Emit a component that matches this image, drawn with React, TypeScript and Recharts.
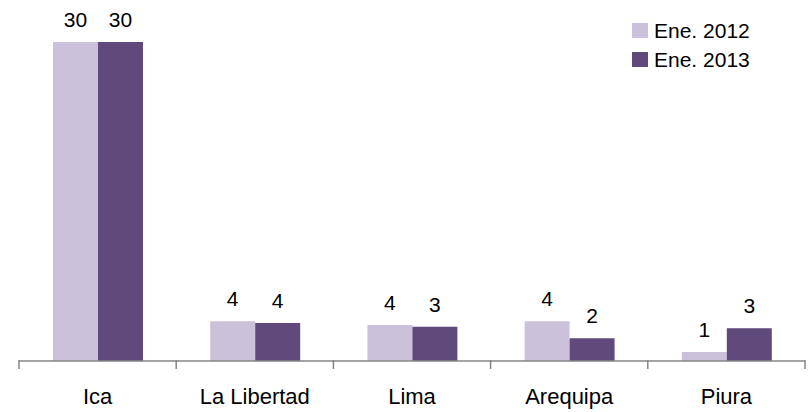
import React from 'react';
import { BarChart, Bar, XAxis, YAxis, LabelList } from 'recharts';

const regions = ['Ica', 'La Libertad', 'Lima', 'Arequipa', 'Piura'];
const ene2012 = [30, 3.73, 3.39, 3.73, 0.85];
const ene2013 = [30, 3.57, 3.23, 2.13, 3.07];
const labels2012 = ['30', '4', '4', '4', '1'];
const labels2013 = ['30', '4', '3', '2', '3'];

const LIGHT = '#CCC1DA';
const DARK = '#604A7B';
const FONT = '"Liberation Sans", Arial, sans-serif';

const data = regions.map((name, i) => ({
  name,
  a: ene2012[i],
  b: ene2013[i],
  la: labels2012[i],
  lb: labels2013[i],
}));

const RegionTick = (props: any) => {
  const { x, y, payload, index, visibleTicksCount } = props;
  const half = payload.offset || 78.6;
  const last = index === visibleTicksCount - 1;
  return (
    <g>
      <line x1={x - half} y1={y - 1} x2={x - half} y2={y + 8} stroke="#868686" strokeWidth={1.5} />
      {last && <line x1={x + half} y1={y - 1} x2={x + half} y2={y + 8} stroke="#868686" strokeWidth={1.5} />}
      <text x={x} y={y + 43} textAnchor="middle" fontSize={22} fontFamily={FONT} fill="#000">
        {payload.value}
      </text>
    </g>
  );
};

const LegendBox = () => (
  <div style={{ position: 'absolute', left: 632, top: 16, fontFamily: FONT, fontSize: 21, color: '#000' }}>
    {[['Ene. 2012', LIGHT], ['Ene. 2013', DARK]].map(([t, c]) => (
      <div key={t} style={{ display: 'flex', alignItems: 'center', height: 29 }}>
        <span style={{ width: 16, height: 15, background: c, marginRight: 6, display: 'inline-block' }} />
        <span>{t}</span>
      </div>
    ))}
  </div>
);

export default function App() {
  return (
    <div style={{ position: 'fixed', left: 0, top: 0, width: 812, height: 412, background: '#fff' }}>
      <BarChart
        width={812}
        height={412}
        data={data}
        margin={{ top: 42, right: 7, bottom: 0, left: 19 }}
        barGap={0}
        barSize={45}
      >
        <YAxis hide domain={[0, 30]} />
        <XAxis
          dataKey="name"
          height={51}
          tickLine={false}
          tickSize={0}
          tickMargin={0}
          axisLine={{ stroke: '#868686', strokeWidth: 1.5 }}
          tick={<RegionTick />}
          interval={0}
        />
        <Bar dataKey="a" fill={LIGHT} isAnimationActive={false}>
          <LabelList dataKey="la" position="top" offset={15} fontSize={21} fontFamily={FONT} fill="#000" />
        </Bar>
        <Bar dataKey="b" fill={DARK} isAnimationActive={false}>
          <LabelList dataKey="lb" position="top" offset={15} fontSize={21} fontFamily={FONT} fill="#000" />
        </Bar>
      </BarChart>
      <LegendBox />
    </div>
  );
}
